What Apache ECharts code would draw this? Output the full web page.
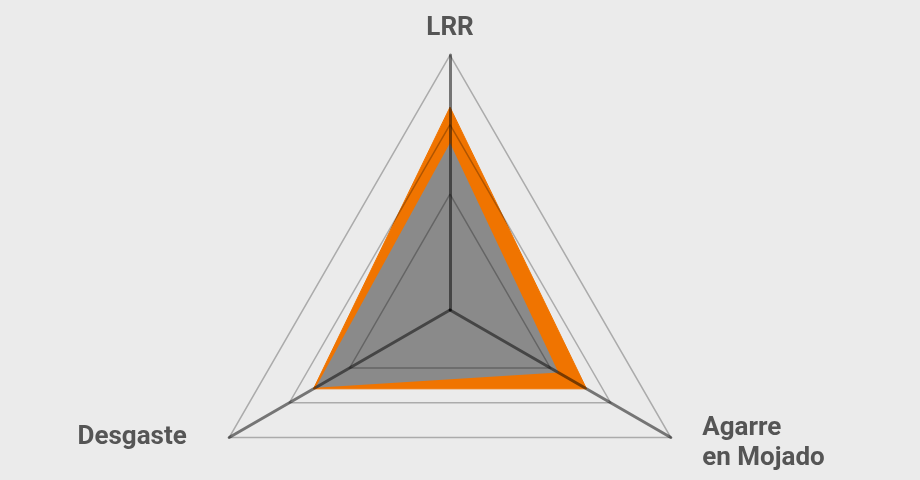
<!DOCTYPE html>
<html>
<head>
<meta charset="utf-8">
<script src="https://cdn.jsdelivr.net/npm/echarts@6/dist/echarts.min.js"></script>
<style>
html,body{margin:0;padding:0;background:#ebebeb;}
#chart{width:920px;height:480px;}
</style>
</head>
<body>
<div id="chart"></div>
<script>
// Indicators (axes) of the radar: top, then counter-clockwise (bottom-left, bottom-right)
const indicatorNames = ['LRR', 'Desgaste', 'Agarre\nen Mojado'];
const indicatorMax = 110;
// Series values (scale 0–110), same order as indicatorNames
const orangeValues = [87.5, 68, 68];
const greyValues = [72, 67, 54];
// Only these split rings are drawn (ring index out of 11)
const visibleRings = [5, 8, 11];

const ringColors = [];
for (let i = 0; i <= 11; i++) {
  ringColors.push(visibleRings.indexOf(i) >= 0 ? 'rgba(0,0,0,0.27)' : 'rgba(0,0,0,0)');
}
const richKey = { 'LRR': 'l', 'Agarre\nen Mojado': 'a', 'Desgaste': 'd' };
const baseFont = { fontFamily: 'Roboto', fontWeight: 'bold', fontSize: 26, color: '#555555', lineHeight: 30 };

const chart = echarts.init(document.getElementById('chart'), null, { renderer: 'canvas' });
chart.setOption({
  backgroundColor: '#ebebeb',
  animation: false,
  radar: {
    z: 5,
    center: [450, 310],
    radius: 255,
    startAngle: 90,
    shape: 'polygon',
    splitNumber: 11,
    nameGap: 12,
    indicator: indicatorNames.map(n => ({ name: n, min: 0, max: indicatorMax })),
    axisName: {
      fontFamily: 'Roboto', fontWeight: 'bold', fontSize: 26, color: '#555555',
      formatter: function (name) {
        const k = richKey[name];
        return name.split('\n').map(s => '{' + k + '|' + s + '}').join('\n');
      },
      rich: {
        l: Object.assign({}, baseFont, { padding: [0, 0, 0, 0] }),
        a: Object.assign({}, baseFont, { padding: [0, 0, 0, 21] }),
        d: Object.assign({}, baseFont, { padding: [0, 32, 13, 0] })
      }
    },
    axisLine: { lineStyle: { color: 'rgba(0,0,0,0.5)', width: 3 } },
    axisTick: { show: false },
    axisLabel: { show: false },
    splitLine: { lineStyle: { color: ringColors, width: 1.5 } },
    splitArea: { show: false }
  },
  series: [{
    type: 'radar',
    symbol: 'none',
    data: [
      {
        value: orangeValues,
        lineStyle: { color: '#f07400', width: 1 },
        areaStyle: { color: '#f07400', opacity: 1 }
      },
      {
        value: greyValues,
        lineStyle: { color: '#8a8a8a', width: 0 },
        areaStyle: { color: '#8a8a8a', opacity: 1 }
      }
    ]
  }]
});
</script>
</body>
</html>
